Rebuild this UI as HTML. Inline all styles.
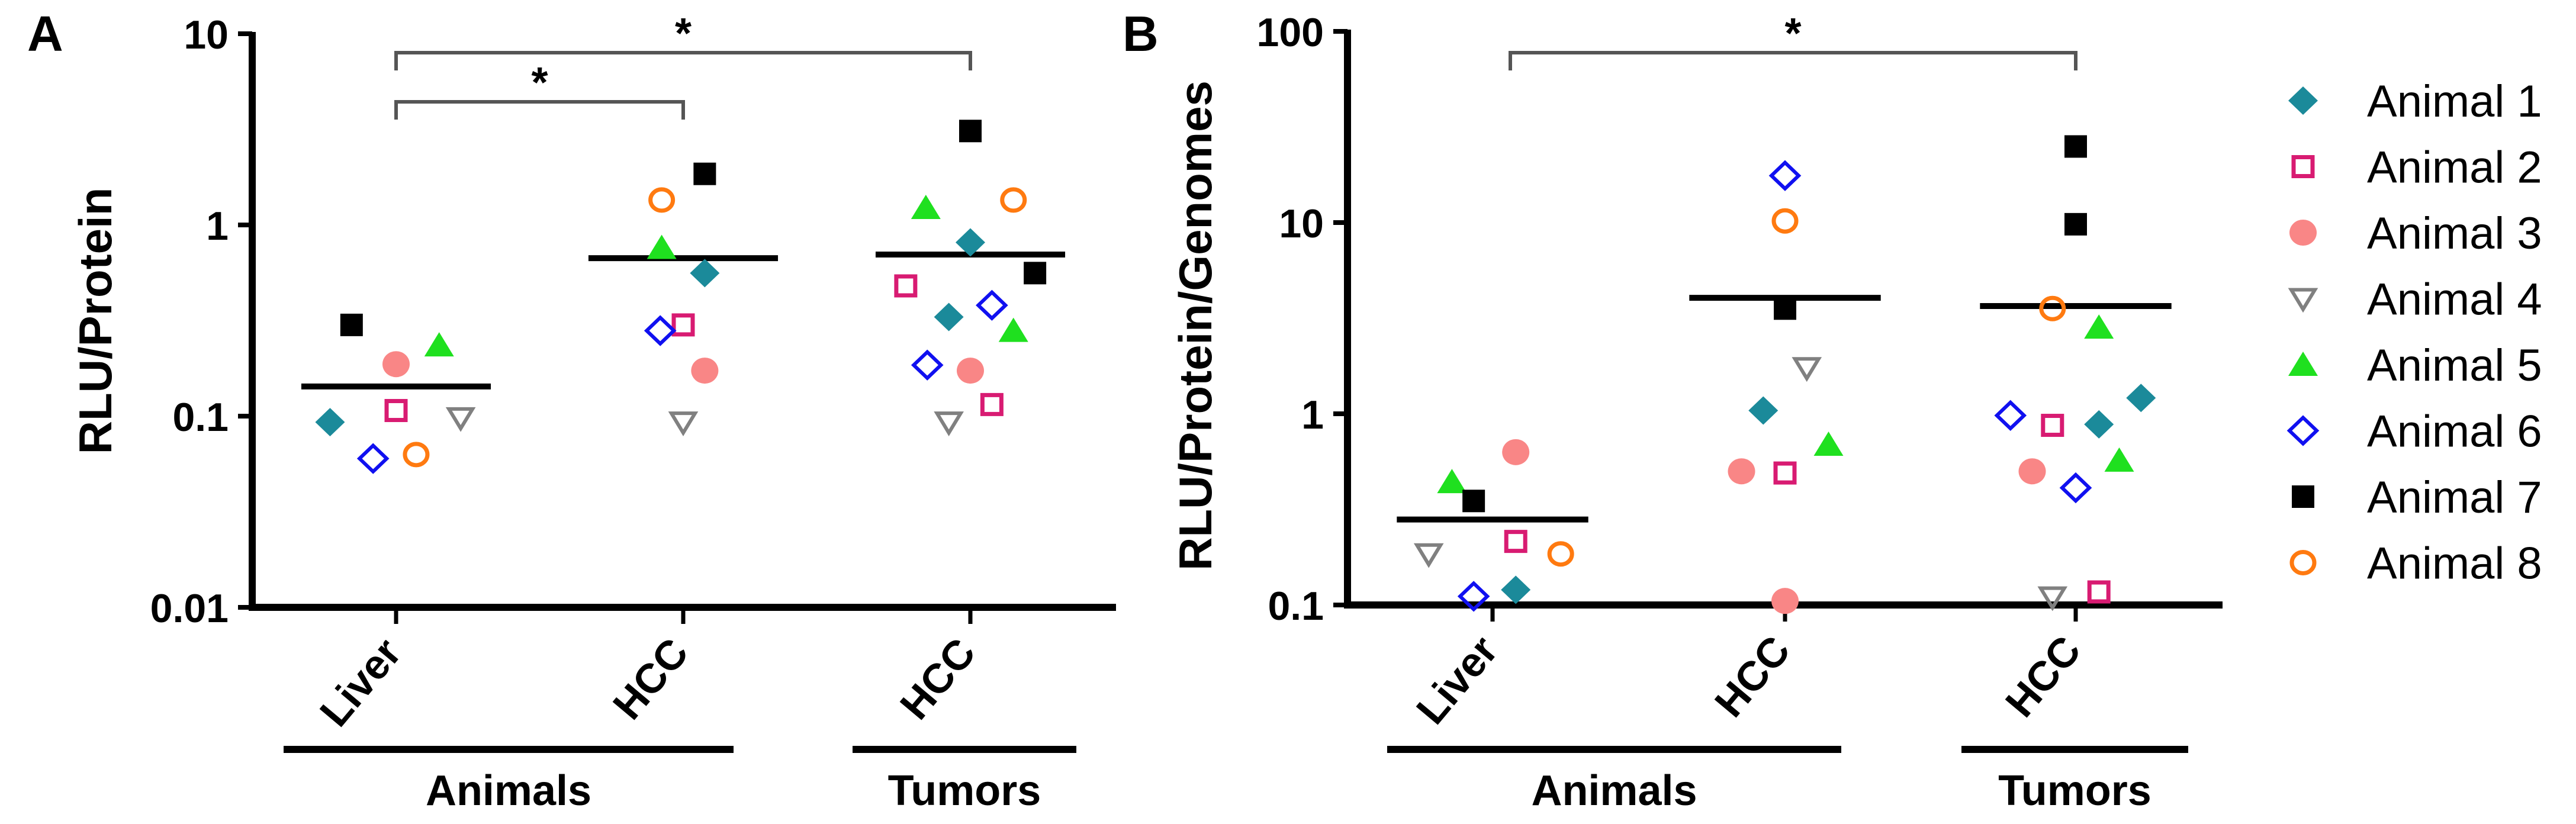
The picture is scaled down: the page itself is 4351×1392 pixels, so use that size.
<!DOCTYPE html>
<html><head><meta charset="utf-8">
<style>
html,body{margin:0;padding:0;background:#fff;}
svg{display:block;font-family:"Liberation Sans",Arial,sans-serif;}
</style></head>
<body>
<svg id="chart" width="4351" height="1392" viewBox="0 0 4351 1392" xmlns="http://www.w3.org/2000/svg"></svg>
<script>
// ---------- data ----------
const animalNames = ["Animal 1","Animal 2","Animal 3","Animal 4","Animal 5","Animal 6","Animal 7","Animal 8"];
const groupLabels = ["Liver","HCC","HCC"];
const yTicksA = [0.01,0.1,1,10];
const yTickLabelsA = ["0.01","0.1","1","10"];
const yTicksB = [0.1,1,10,100];
const yTickLabelsB = ["0.1","1","10","100"];

// Panel A: RLU/Protein
const aAnimal = [1,2,3,4,5,6,7,8, 1,2,3,4,5,6,7,8, 7,8,5,1,7,2,1,6,5,6,3,2,4];
const aGroup  = [0,0,0,0,0,0,0,0, 1,1,1,1,1,1,1,1, 2,2,2,2,2,2,2,2,2,2,2,2,2];
const aValues = [0.093,0.107,0.187,0.098,0.235,0.060,0.30,0.063,
                 0.56,0.30,0.173,0.093,0.76,0.28,1.85,1.35,
                 3.1,1.35,1.23,0.81,0.56,0.48,0.33,0.38,0.28,0.185,0.173,0.115,0.093];
const aJitter = [-0.23,0,0,0.225,0.15,-0.08,-0.155,0.07,
                 0.075,0,0.075,0,-0.075,-0.08,0.075,-0.075,
                 0,0.15,-0.155,0,0.225,-0.225,-0.075,0.075,0.15,-0.15,0,0.075,-0.075];
const aMeans = [0.143,0.67,0.70];

// Panel B: RLU/Protein/Genomes
const bAnimal = [1,2,3,4,5,6,7,8, 1,2,3,3,4,5,6,7,8, 7,7,8,5,1,6,2,1,5,3,6,4,2];
const bGroup  = [0,0,0,0,0,0,0,0, 1,1,1,1,1,1,1,1,1, 2,2,2,2,2,2,2,2,2,2,2,2,2];
const bValues = [0.12,0.215,0.63,0.185,0.44,0.111,0.35,0.185,
                 1.04,0.49,0.50,0.105,1.74,0.69,17.6,3.55,10.2,
                 25,9.8,3.55,2.83,1.21,0.98,0.87,0.88,0.57,0.50,0.41,0.11,0.117];
const bJitter = [0.08,0.08,0.08,-0.22,-0.14,-0.065,-0.065,0.235,
                 -0.075,0,-0.15,0,0.075,0.15,0,0,0,
                 0,0,-0.08,0.08,0.225,-0.225,-0.08,0.08,0.15,-0.15,0,-0.08,0.08];
const bMeans = [0.28,4.04,3.66];

// ---------- drawing ----------
const NS="http://www.w3.org/2000/svg";
const svg=document.getElementById('chart');
function mk(tag,attrs,parent){const e=document.createElementNS(NS,tag);for(const k in attrs)e.setAttribute(k,attrs[k]);(parent||svg).appendChild(e);return e;}
const colors=["#1b8a9a","#d81b72","#f98686","#808080","#1fe01f","#1010f0","#000000","#ff7a10"];

function marker(g,animal,cx,cy){
  const c=colors[animal-1];let e;
  switch(animal){
    case 1: e=mk('polygon',{points:`${cx},${cy-24} ${cx+25},${cy} ${cx},${cy+24} ${cx-25},${cy}`,fill:c},g);break;
    case 2: e=mk('rect',{x:cx-16,y:cy-16,width:32,height:32,fill:'none',stroke:c,'stroke-width':7},g);break;
    case 3: e=mk('ellipse',{cx:cx,cy:cy,rx:23,ry:22,fill:c},g);break;
    case 4: e=mk('polygon',{points:`${cx-20},${cy-15} ${cx+20},${cy-15} ${cx},${cy+18}`,fill:'none',stroke:c,'stroke-width':6},g);break;
    case 5: e=mk('polygon',{points:`${cx-25},${cy+19} ${cx+25},${cy+19} ${cx},${cy-22}`,fill:c},g);break;
    case 6: e=mk('polygon',{points:`${cx},${cy-22} ${cx+23},${cy} ${cx},${cy+22} ${cx-23},${cy}`,fill:'none',stroke:c,'stroke-width':6},g);break;
    case 7: e=mk('rect',{x:cx-19,y:cy-19,width:38,height:38,fill:c},g);break;
    case 8: e=mk('ellipse',{cx:cx,cy:cy,rx:19,ry:18,fill:'none',stroke:c,'stroke-width':7},g);break;
  }
  
  
}

function panel(cfg){
  const g=mk('g',{});
  
  
  const y=v=>cfg.y0-cfg.dec*(Math.log10(v)-Math.log10(cfg.vmin));
  const x=(gi,j)=>cfg.cx[gi]+(j||0)*cfg.band;
  const L=mk('text',{x:cfg.letterX,y:86,'font-size':84,'font-weight':'bold'},g);L.textContent=cfg.letter;
  
  const ya=mk('line',{x1:cfg.ax,y1:cfg.y0+6,x2:cfg.ax,y2:y(cfg.ticks[cfg.ticks.length-1])-3,stroke:'#000','stroke-width':12},g);
  
  const xa=mk('line',{x1:cfg.ax-6,y1:cfg.y0,x2:cfg.axEnd,y2:cfg.y0,stroke:'#000','stroke-width':12},g);
  
  cfg.ticks.forEach((t,i)=>{
    const ty=y(t);
    mk('line',{x1:cfg.ax-24,y1:ty,x2:cfg.ax,y2:ty,stroke:'#000','stroke-width':8},g);
    const tl=mk('text',{x:cfg.ax-40,y:ty+25,'font-size':68,'font-weight':'bold','text-anchor':'end'},g);
    tl.textContent=cfg.tickLabels[i];
    
  });
  const yt=mk('text',{x:0,y:0,'font-size':78,'font-weight':'bold','text-anchor':'middle',transform:`translate(${cfg.titleX},${cfg.titleY}) rotate(-90)`},g);
  yt.textContent=cfg.title;
  groupLabels.forEach((lab,i)=>{
    const cx=x(i);
    mk('line',{x1:cx,y1:cfg.y0,x2:cx,y2:cfg.y0+28,stroke:'#000','stroke-width':7},g);
    const t=mk('text',{x:0,y:0,'font-size':70,'font-weight':'bold','text-anchor':'end',transform:`translate(${cx+12},${cfg.y0+78}) rotate(-50)`},g);
    t.textContent=lab;
  });
  cfg.under.forEach(u=>{
    const l=mk('line',{x1:u[0],y1:1266,x2:u[1],y2:1266,stroke:'#000','stroke-width':12},g);
    
    const t=mk('text',{x:(u[0]+u[1])/2,y:1360,'font-size':72,'font-weight':'bold','text-anchor':'middle'},g);
    t.textContent=u[2];
  });
  cfg.brackets.forEach(b=>{
    const x1=x(b[0])+cfg.brOff,x2=x(b[1]);
    const p=mk('path',{d:`M${x1},${b[2]+30} V${b[2]} H${x2} V${b[2]+30}`,fill:'none',stroke:'#555','stroke-width':6},g);
    
    const s=mk('text',{x:(x1+x2)/2,y:b[2]-8,'font-size':72,'font-weight':'bold','text-anchor':'middle'},g);
    s.textContent='*';
  });
  cfg.means.forEach((m,i)=>{
    const l=mk('line',{x1:x(i,-cfg.mw),y1:y(m),x2:x(i,cfg.mw),y2:y(m),stroke:'#000','stroke-width':10},g);
    
  });
  cfg.vals.forEach((v,i)=>marker(g,cfg.animal[i],x(cfg.group[i],cfg.jit[i]),y(v)));
}

panel({name:'panel-a',letter:'A',letterX:46,ax:426,axEnd:1885,y0:1026,dec:323,vmin:0.01,
  ticks:yTicksA,tickLabels:yTickLabelsA,title:'RLU/Protein',titleX:188,titleY:542,
  cx:[669,1154,1639],band:485,mw:0.33,means:aMeans,vals:aValues,animal:aAnimal,group:aGroup,jit:aJitter,
  under:[[479,1239,'Animals'],[1440,1818,'Tumors']],
  brackets:[[0,2,89],[0,1,172]],brOff:0});
panel({name:'panel-b',letter:'B',letterX:1896,ax:2276,axEnd:3754,y0:1022,dec:323,vmin:0.1,
  ticks:yTicksB,tickLabels:yTickLabelsB,title:'RLU/Protein/Genomes',titleX:2046,titleY:550,
  cx:[2521,3015,3506],band:490,mw:0.33,means:bMeans,vals:bValues,animal:bAnimal,group:bGroup,jit:bJitter,
  under:[[2343,3110,'Animals'],[3313,3696,'Tumors']],
  brackets:[[0,2,89]],brOff:30});

const lg=mk('g',{});


animalNames.forEach((n,i)=>{
  const cy=170+i*111.5;
  const eg=mk('g',{},lg);
  
  
  marker(eg,i+1,3890,cy);
  const t=mk('text',{x:3998,y:cy+27,'font-size':76},eg);
  t.textContent=n;
});
</script>
</body></html>
